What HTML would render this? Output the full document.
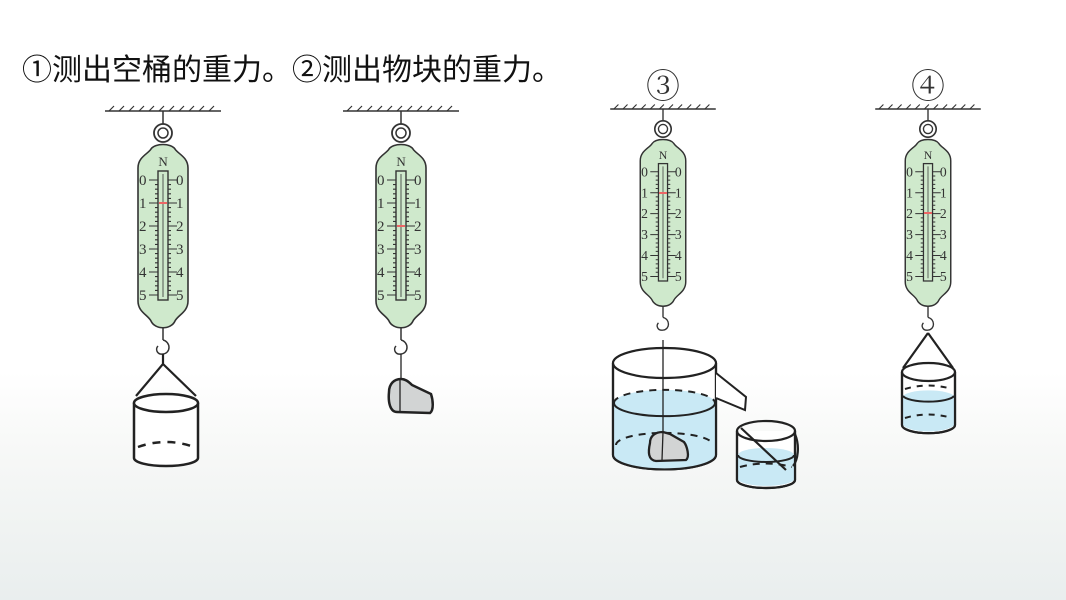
<!DOCTYPE html>
<html><head><meta charset="utf-8"><style>
html,body{margin:0;padding:0;}
body{width:1066px;height:600px;overflow:hidden;background:linear-gradient(#fff 0%,#fff 62%,#f7f8f7 75%,#f0f3f2 88%,#e9eeee 100%);}
svg{position:absolute;left:0;top:0}
</style></head><body>
<svg width="1066" height="600" viewBox="0 0 1066 600" xmlns="http://www.w3.org/2000/svg">
<defs>
<g id="scale">
  <line x1="-58" y1="0" x2="58" y2="0" stroke="#333" stroke-width="1.6"/>
  <path d="M-54,0 l5,-5 M-44,0 l5,-5 M-34,0 l5,-5 M-24,0 l5,-5 M-14,0 l5,-5 M-4,0 l5,-5 M6,0 l5,-5 M16,0 l5,-5 M26,0 l5,-5 M36,0 l5,-5 M46,0 l5,-5" stroke="#333" stroke-width="1.2"/>
  <line x1="0" y1="0" x2="0" y2="13" stroke="#333" stroke-width="1.5"/>
  <circle cx="0" cy="22" r="9" fill="#fff" stroke="#333" stroke-width="1.8"/>
  <circle cx="0" cy="22" r="5" fill="#fff" stroke="#333" stroke-width="1.5"/>
  <path d="M-25,57 C-25,46 -15,43 -12,38 C-8,32 8,32 12,38 C15,43 25,46 25,57 L25,190 C25,201 15,204 12,210 C8,219 -8,219 -12,210 C-15,204 -25,201 -25,190 Z" fill="#cfe9cc" stroke="#333" stroke-width="1.6"/>
  <text x="0" y="55" font-family="Liberation Serif,serif" font-size="13" text-anchor="middle" fill="#333">N</text>
  <rect x="-5" y="60" width="10" height="129" fill="#cfe9cc" stroke="#333" stroke-width="1.4"/>
  <line x1="0" y1="63" x2="0" y2="186" stroke="#333" stroke-width="0.8"/>
  <path d="M-14,69 h9 M-8,73.6 h3 M-8,78.2 h3 M-8,82.8 h3 M-8,87.4 h3 M-14,92 h9 M-8,96.6 h3 M-8,101.2 h3 M-8,105.8 h3 M-8,110.4 h3 M-14,115 h9 M-8,119.6 h3 M-8,124.2 h3 M-8,128.8 h3 M-8,133.4 h3 M-14,138 h9 M-8,142.6 h3 M-8,147.2 h3 M-8,151.8 h3 M-8,156.4 h3 M-14,161 h9 M-8,165.6 h3 M-8,170.2 h3 M-8,174.8 h3 M-8,179.4 h3 M-14,184 h9" stroke="#333" stroke-width="1.1"/>
  <path d="M5,69 h9 M5,73.6 h3 M5,78.2 h3 M5,82.8 h3 M5,87.4 h3 M5,92 h9 M5,96.6 h3 M5,101.2 h3 M5,105.8 h3 M5,110.4 h3 M5,115 h9 M5,119.6 h3 M5,124.2 h3 M5,128.8 h3 M5,133.4 h3 M5,138 h9 M5,142.6 h3 M5,147.2 h3 M5,151.8 h3 M5,156.4 h3 M5,161 h9 M5,165.6 h3 M5,170.2 h3 M5,174.8 h3 M5,179.4 h3 M5,184 h9" stroke="#333" stroke-width="1.1"/>
  <g font-family="Liberation Serif,serif" font-size="15" fill="#333">
    <text x="-24" y="74">0</text><text x="13" y="74">0</text>
    <text x="-24" y="97">1</text><text x="13" y="97">1</text>
    <text x="-24" y="120">2</text><text x="13" y="120">2</text>
    <text x="-24" y="143">3</text><text x="13" y="143">3</text>
    <text x="-24" y="166">4</text><text x="13" y="166">4</text>
    <text x="-24" y="189">5</text><text x="13" y="189">5</text>
  </g>
  <line x1="0" y1="217" x2="0" y2="229" stroke="#333" stroke-width="1.5"/>
  <path d="M0,229 C8,231 8,242 0,243 C-6,244 -8,238 -5,235" fill="none" stroke="#333" stroke-width="1.5"/>
</g>
</defs>

<text x="22" y="80" font-family="Liberation Sans,'Noto Sans CJK SC',sans-serif" font-size="30" fill="#111">①测出空桶的重力。②测出物块的重力。</text>
<text x="663" y="98" font-family="Liberation Serif,'Noto Serif CJK SC',serif" font-size="34" text-anchor="middle" fill="#333">③</text>
<text x="928" y="98" font-family="Liberation Serif,'Noto Serif CJK SC',serif" font-size="34" text-anchor="middle" fill="#333">④</text>

<!-- scale 1 -->
<use href="#scale" transform="translate(163,111)"/>
<rect x="159" y="202" width="8" height="2" fill="#e66"/>
<path d="M163,354 V364 L136,396 M163,364 L196,396" fill="none" stroke="#222" stroke-width="2.2"/>
<path d="M134,403 V458 A32,8 0 0 0 198,458 V403" fill="#fff" stroke="#222" stroke-width="2.5"/>
<ellipse cx="166" cy="403" rx="32" ry="9" fill="#fff" stroke="#222" stroke-width="2.5"/>
<path d="M138,447 Q166,437 194,447" fill="none" stroke="#222" stroke-width="2.5" stroke-dasharray="8,7"/>

<!-- scale 2 -->
<use href="#scale" transform="translate(401,111)"/>
<rect x="397" y="225" width="8" height="2" fill="#e66"/>
<line x1="401" y1="354" x2="401" y2="380" stroke="#222" stroke-width="1.3"/>
<path d="M401,379 C394,379 389,384 389,392 C388,402 390,412 397,412 L430,413 C434,410 433,400 431,394 L412,385 C408,381 405,379 401,379 Z" fill="#d2d4d4" stroke="#222" stroke-width="2.5"/>
<line x1="400" y1="380" x2="400" y2="411" stroke="#222" stroke-width="1.3"/>

<!-- scale 3 -->
<use href="#scale" transform="translate(663,109) scale(0.91)"/>
<rect x="659" y="192" width="8" height="2" fill="#e66"/>
<path d="M613,363 V455 A50,14 0 0 0 716,455 V363" fill="#fff" stroke="#222" stroke-width="2.2"/>
<path d="M614,403 A50,13 0 0 1 715,403 V455 A50,14 0 0 1 614,455 Z" fill="#c9e9f5"/>
<path d="M614,403 A50,13 0 0 0 715,403" fill="none" stroke="#222" stroke-width="2"/>
<path d="M614,403 A50,13 0 0 1 715,403" fill="none" stroke="#222" stroke-width="2" stroke-dasharray="7,6"/>
<path d="M616,445 A48,12 0 0 1 713,445" fill="none" stroke="#222" stroke-width="2" stroke-dasharray="7,6"/>
<path d="M613,363 V455 A50,14 0 0 0 716,455 V363" fill="none" stroke="#222" stroke-width="2.2"/>
<ellipse cx="664.5" cy="363" rx="51.5" ry="15" fill="#fff" stroke="#222" stroke-width="2.2"/>
<path d="M716,373 L746,397 L745,410 L716,398" fill="#fff" stroke="#222" stroke-width="2"/>
<line x1="663" y1="340" x2="663" y2="432" stroke="#222" stroke-width="1.3"/>
<path d="M663,432 C655,432 650,436 650,443 C648,452 648,460 656,461 L686,460 C690,457 687,446 684,442 L670,434 Z" fill="#d2d4d4" stroke="#222" stroke-width="2.3"/>
<line x1="663" y1="432" x2="662" y2="460" stroke="#222" stroke-width="1.3"/>
<!-- small bucket -->
<path d="M737,431 V480 A29,8 0 0 0 795,480 V431" fill="#fff" stroke="#222" stroke-width="2.2"/>
<path d="M738,455 A28,7 0 0 1 794,455 V480 A29,8 0 0 1 738,480 Z" fill="#c9e9f5"/>
<path d="M738,455 A28,7 0 0 0 794,455" fill="none" stroke="#222" stroke-width="2"/>
<path d="M740,467 Q766,460 792,467" fill="none" stroke="#222" stroke-width="2" stroke-dasharray="7,6"/>
<path d="M737,431 V480 A29,8 0 0 0 795,480 V431" fill="none" stroke="#222" stroke-width="2.2"/>
<ellipse cx="766" cy="431" rx="29" ry="10" fill="none" stroke="#222" stroke-width="2.2"/>
<path d="M741,428 L786,470 M795,434 C800,446 798,460 793,466" fill="none" stroke="#222" stroke-width="2.2"/>

<!-- scale 4 -->
<use href="#scale" transform="translate(928,109) scale(0.91)"/>
<rect x="924" y="212" width="8" height="2" fill="#e66"/>
<path d="M928,333 L903,368 M928,333 L953,368" fill="none" stroke="#222" stroke-width="2.2"/>
<path d="M902,372 V425 A26,8 0 0 0 955,425 V372" fill="#fff" stroke="#222" stroke-width="2.2"/>
<path d="M903,396 A26,7 0 0 1 954,396 V425 A26,8 0 0 1 903,425 Z" fill="#c9e9f5"/>
<path d="M903,396 A26,7 0 0 0 954,396" fill="none" stroke="#222" stroke-width="2"/>
<path d="M905,389 Q928,382 952,389 M905,418 Q928,411 952,418" fill="none" stroke="#222" stroke-width="2" stroke-dasharray="6,6"/>
<path d="M902,372 V425 A26,8 0 0 0 955,425 V372" fill="none" stroke="#222" stroke-width="2.2"/>
<ellipse cx="928.5" cy="372" rx="26.5" ry="9" fill="#fff" stroke="#222" stroke-width="2.2"/>
</svg>
</body></html>
